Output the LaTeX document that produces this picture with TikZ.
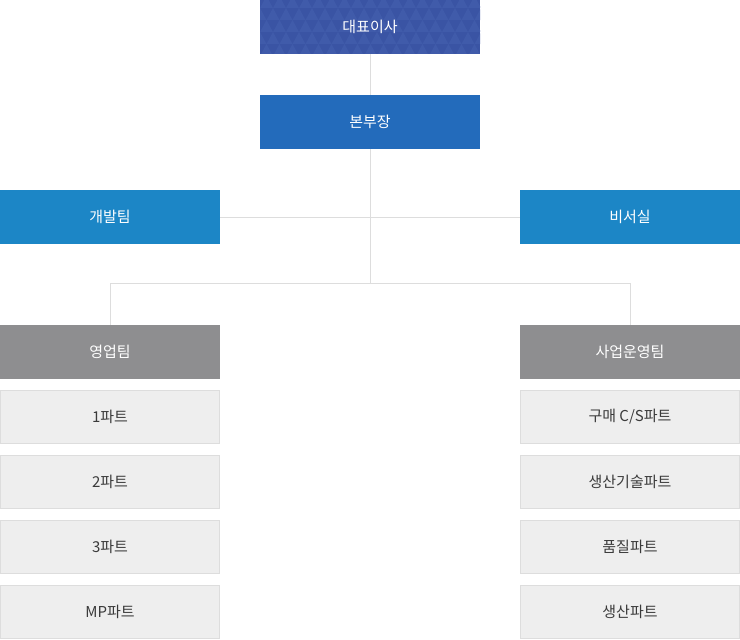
\documentclass[tikz,border=0pt]{standalone}
\usepackage{fontspec}
\setmainfont{Noto Sans CJK KR}
\definecolor{ceoblue}{HTML}{3A54A4}
\definecolor{ceotri}{HTML}{405BAA}
\definecolor{headblue}{HTML}{236BBB}
\definecolor{teamblue}{HTML}{1C86C6}
\definecolor{teamgrey}{HTML}{8E8E90}
\definecolor{partfill}{HTML}{EEEEEE}
\definecolor{partline}{HTML}{DDDDDD}
\definecolor{parttext}{HTML}{3A3A3A}
\begin{document}
\begin{tikzpicture}[x=1pt,y=-1pt]

      \useasboundingbox (0,0) rectangle (740,640);

      % triangle pattern behind the top box
      \fill[ceoblue] (260,0) rectangle (480,54);
      \begin{scope}
        \clip (260,0) rectangle (480,53.5);
        \foreach \r in {0,...,4}
          \foreach \c in {-1,...,17}
            \fill[ceotri] ({260+13*\c+6.5*mod(\r,2)}, {12*\r+8}) -- ++(6.5,-12) -- ++(6.5,12) -- cycle;
      \end{scope}

      \begin{scope}[every node/.style={inner sep=0pt, minimum width=220pt, minimum height=54pt,
          text=white, font=\fontsize{15}{17}\selectfont}]
        \node                (ceo)   at (370,27)  {대표이사};
        \node[fill=headblue] (head)  at (370,122) {본부장};
        \node[fill=teamblue] (dev)   at (110,217) {개발팀};
        \node[fill=teamblue] (sec)   at (630,217) {비서실};
        \node[fill=teamgrey] (sales) at (110,352) {영업팀};
        \node[fill=teamgrey] (ops)   at (630,352) {사업운영팀};
      \end{scope}

      \begin{scope}[every node/.style={inner sep=0pt, minimum width=219pt, minimum height=53pt,
          fill=partfill, draw=partline, line width=1pt, text=parttext, font=\fontsize{15}{17}\selectfont}]
        \node (s1) at (110,416.5) {1파트};
        \node (s2) at (110,481.5) {2파트};
        \node (s3) at (110,546.5) {3파트};
        \node (s4) at (110,611.5) {MP파트};
        \node (o1) at (630,416.5) {구매 C/S파트};
        \node (o2) at (630,481.5) {생산기술파트};
        \node (o3) at (630,546.5) {품질파트};
        \node (o4) at (630,611.5) {생산파트};
      \end{scope}

      \coordinate (hub) at (370,283.5);

      \begin{scope}[draw=partline, line width=1pt]
        \draw (ceo) -- (head);
        \draw (head) -- (hub);
        \draw (dev) -- (sec);
        \draw (sales) |- (hub) -| (ops);
      \end{scope}

    \end{tikzpicture}
\end{document}
